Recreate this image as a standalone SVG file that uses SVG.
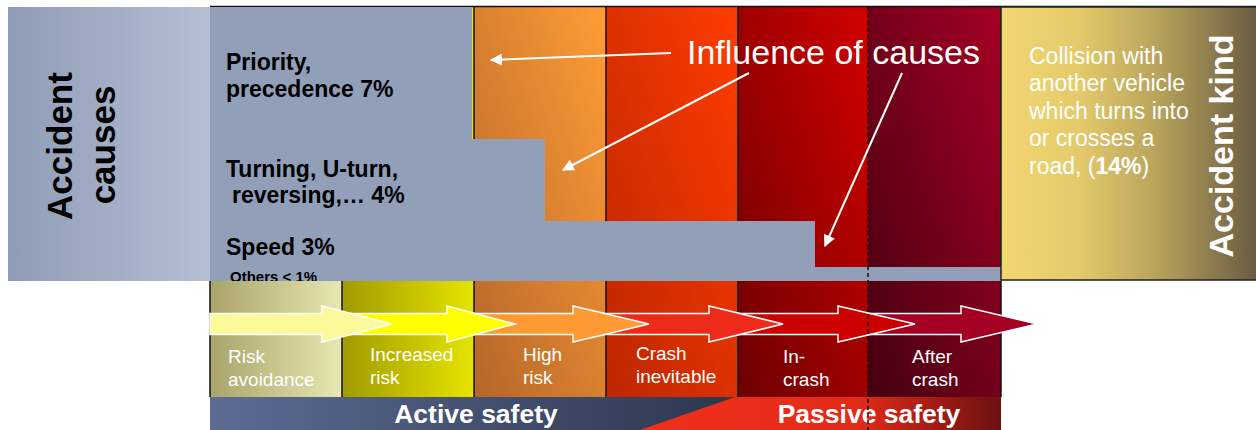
<svg xmlns="http://www.w3.org/2000/svg" width="1256" height="430" viewBox="0 0 1256 430">
<style>
.b{font-family:"Liberation Sans",Arial,sans-serif;font-weight:bold;fill:#000}
.w{font-family:"Liberation Sans",Arial,sans-serif;fill:#fff}
.lbl{font-family:"Liberation Sans",Arial,sans-serif;font-size:19px;fill:#fff}
.col{stroke:none}
.vl{stroke:#111;stroke-width:1.5}
.blk{stroke:#fff;stroke-width:1.5}
.con{stroke:#fff;stroke-width:2;fill:none;marker-end:url(#wh)}
</style>
<defs>
<linearGradient id="gLeft" x1="0" y1="0" x2="1" y2="0"><stop offset="0" stop-color="#8e9cb7"/><stop offset="1" stop-color="#b6bfd2"/></linearGradient>
<linearGradient id="gC1" x1="0" y1="0" x2="1" y2="0"><stop offset="0" stop-color="#a8a46a"/><stop offset="1" stop-color="#e9e7b2"/></linearGradient>
<linearGradient id="gC2" x1="0" y1="0" x2="1" y2="0"><stop offset="0" stop-color="#a09b00"/><stop offset="1" stop-color="#e6e400"/></linearGradient>
<linearGradient id="gC3" x1="0" y1="1" x2="1" y2="0"><stop offset="0" stop-color="#b4662a"/><stop offset="1" stop-color="#ff9c36"/></linearGradient>
<linearGradient id="gC4" x1="0" y1="1" x2="1" y2="0"><stop offset="0" stop-color="#bc2600"/><stop offset="1" stop-color="#ff3c00"/></linearGradient>
<linearGradient id="gC5" x1="0" y1="1" x2="1" y2="0"><stop offset="0" stop-color="#6c0000"/><stop offset="1" stop-color="#d20000"/></linearGradient>
<linearGradient id="gC6" x1="0" y1="1" x2="1" y2="0"><stop offset="0" stop-color="#440010"/><stop offset="1" stop-color="#a50024"/></linearGradient>
<linearGradient id="gRight" x1="0" y1="0" x2="1" y2="0"><stop offset="0" stop-color="#f2d672"/><stop offset="0.3" stop-color="#e4ca6a"/><stop offset="0.6" stop-color="#b9a45c"/><stop offset="1" stop-color="#685a42"/></linearGradient>
<linearGradient id="gBlue" gradientUnits="userSpaceOnUse" x1="210" y1="0" x2="740" y2="0"><stop offset="0" stop-color="#5c6c94"/><stop offset="1" stop-color="#2c364e"/></linearGradient>
<linearGradient id="gRed" gradientUnits="userSpaceOnUse" x1="640" y1="0" x2="1001" y2="0"><stop offset="0" stop-color="#f0301c"/><stop offset="0.6" stop-color="#e42a18"/><stop offset="1" stop-color="#6c1010"/></linearGradient>
<marker id="wh" viewBox="0 0 10 10" refX="9" refY="5" markerWidth="6.5" markerHeight="6" orient="auto" markerUnits="strokeWidth"><path d="M0,0 L10,5 L0,10 z" fill="#fff"/></marker>
<clipPath id="cg"><rect x="210" y="7" width="800" height="274"/></clipPath>
</defs>

<g id="phases">
<rect class="col" x="210" y="7" width="132" height="390" fill="url(#gC1)"/>
<rect class="col" x="342" y="7" width="132" height="390" fill="url(#gC2)"/>
<rect class="col" x="474" y="7" width="132" height="390" fill="url(#gC3)"/>
<rect class="col" x="606" y="7" width="132" height="390" fill="url(#gC4)"/>
<rect class="col" x="738" y="7" width="130" height="390" fill="url(#gC5)"/>
<rect class="col" x="868" y="7" width="133" height="390" fill="url(#gC6)"/>
<line class="vl" x1="210" y1="7" x2="210" y2="397"/>
<line class="vl" x1="342" y1="7" x2="342" y2="397"/>
<line class="vl" x1="474" y1="7" x2="474" y2="397"/>
<line class="vl" x1="606" y1="7" x2="606" y2="397"/>
<line class="vl" x1="738" y1="7" x2="738" y2="397"/>
<line class="vl" x1="1001" y1="7" x2="1001" y2="397"/>
<line class="vl" x1="210" y1="6.5" x2="1256" y2="6.5"/>
</g>

<g id="accident-causes">
<rect x="8" y="7" width="203" height="274" fill="url(#gLeft)"/>
<text class="b" font-size="35" text-anchor="middle" transform="translate(72,146) rotate(-90)">Accident</text>
<text class="b" font-size="35" text-anchor="middle" transform="translate(115,145) rotate(-90)">causes</text>
</g>

<g id="causes">
<polygon points="210,7 472,7 472,139 545,139 545,221 815,221 815,267 1001,267 1001,281 210,281" fill="#919fb9"/>
<text class="b" font-size="23" x="226" y="70">Priority,</text>
<text class="b" font-size="23" x="226" y="97">precedence 7%</text>
<text class="b" font-size="23" x="226" y="177">Turning, U-turn,</text>
<text class="b" font-size="23" x="232" y="203">reversing,… 4%</text>
<text class="b" font-size="23" x="226" y="255">Speed 3%</text>
<text class="b" font-size="15" x="230" y="281.5" clip-path="url(#cg)">Others &lt; 1%</text>
</g>

<g id="accident-kind">
<rect x="1001" y="7" width="258" height="273" fill="url(#gRight)" stroke="#222" stroke-width="1.5"/>
<text class="w" font-size="23" x="1029" y="63.5">Collision with</text>
<text class="w" font-size="23" x="1029" y="91">another vehicle</text>
<text class="w" font-size="23" x="1029" y="118.5">which turns into</text>
<text class="w" font-size="23" x="1029" y="146">or crosses a</text>
<text class="w" font-size="23" x="1029" y="173.5">road, (<tspan font-weight="bold">14%</tspan>)</text>
<text class="w" font-size="34" font-weight="bold" text-anchor="middle" transform="translate(1233,146) rotate(-90)">Accident kind</text>
</g>

<g id="phase-arrows">
<path class="blk" fill="#a50024" d="M838,313.5 L961,313.5 L961,306 L1037,324 L961,342 L961,334.5 L838,334.5 Z"/>
<path class="blk" fill="#cc0000" d="M709,313.5 L838,313.5 L838,306 L915,324 L838,342 L838,334.5 L709,334.5 Z"/>
<path class="blk" fill="#ee2a1a" d="M573,313.5 L709,313.5 L709,306 L783,324 L709,342 L709,334.5 L573,334.5 Z"/>
<path class="blk" fill="#ff9a35" d="M447,313.5 L573,313.5 L573,306 L649,324 L573,342 L573,334.5 L447,334.5 Z"/>
<path class="blk" fill="#ffff00" d="M322,313.5 L447,313.5 L447,306 L515,324 L447,342 L447,334.5 L322,334.5 Z"/>
<path class="blk" fill="#fbf99a" d="M210,313.5 L322,313.5 L322,306 L392,324 L322,342 L322,334.5 L210,334.5 Z"/>
</g>

<g id="phase-labels">
<text class="lbl" x="228" y="363">Risk</text><text class="lbl" x="228" y="386">avoidance</text>
<text class="lbl" x="370" y="361">Increased</text><text class="lbl" x="370" y="384">risk</text>
<text class="lbl" x="523" y="361">High</text><text class="lbl" x="523" y="384">risk</text>
<text class="lbl" x="636" y="360">Crash</text><text class="lbl" x="636" y="383">inevitable</text>
<text class="lbl" x="783" y="363">In-</text><text class="lbl" x="783" y="386">crash</text>
<text class="lbl" x="912" y="363">After</text><text class="lbl" x="912" y="386">crash</text>
</g>

<g id="safety">
<rect x="210" y="397" width="530" height="33" fill="url(#gBlue)"/>
<polygon points="735,397 1001,397 1001,430 640,430" fill="url(#gRed)"/>
<text class="w" font-size="26.5" font-weight="bold" text-anchor="middle" x="476" y="423">Active safety</text>
<text class="w" font-size="26.5" font-weight="bold" text-anchor="middle" x="869" y="423">Passive safety</text>
</g>

<line x1="868" y1="7" x2="868" y2="430" stroke="#111" stroke-width="1.5" stroke-dasharray="4,3"/>

<g id="influence">
<text class="w" font-size="34" x="687" y="64">Influence of causes</text>
</g>

<g id="connectors">
<path class="con" d="M671,53 L491,60"/>
<path class="con" d="M749,73 L563,170"/>
<path class="con" d="M902,73 L825,246"/>
</g>
</svg>
